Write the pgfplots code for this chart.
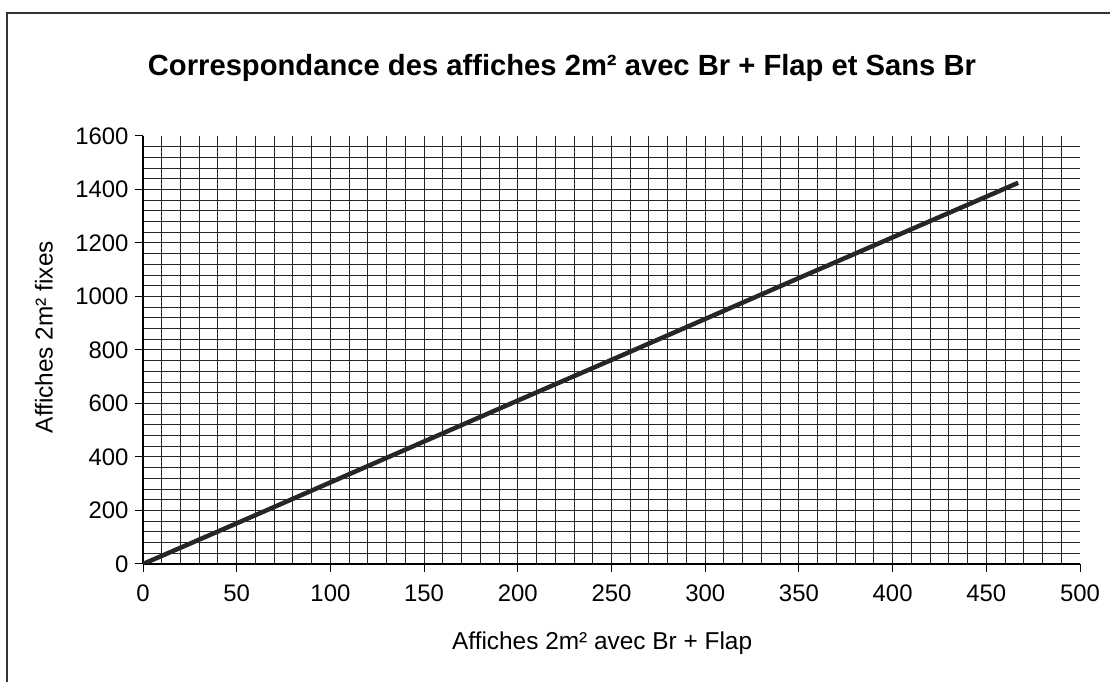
\documentclass[border=0pt]{standalone}
\usepackage{pgfplots}
\pgfplotsset{compat=1.18}
\usepackage{fontspec}
\setmainfont{Liberation Sans}
\begin{document}
\begin{tikzpicture}[x=1bp,y=1bp]
\useasboundingbox (0,0) rectangle (1110,682);
\draw[line width=1.2bp, black!80] (7,0) -- (7,669) -- (1110,669);
\node[font=\fontsize{29.3}{33}\selectfont\bfseries] at (562,614) {Correspondance des affiches 2m² avec Br + Flap et Sans Br};
\begin{axis}[
  at={(143bp,118bp)}, anchor=south west, scale only axis,
  width=937bp, height=428bp,
  xmin=0, xmax=500, ymin=0, ymax=1600,
  xtick={0,50,...,500}, ytick={0,200,...,1600},
  minor xtick={10,20,...,490}, minor ytick={40,80,...,1560},
  grid=minor, minor grid style={black!85, line width=1bp},
  axis x line*=bottom, axis y line*=left,
  axis line style={black, line width=1.2bp},
  tick align=outside, major tick length=8bp, minor tick length=0pt,
  major tick style={black, line width=1bp},
  ticklabel style={font=\fontsize{24}{27}\selectfont},
  /pgf/number format/assume math mode=true,
  /pgf/number format/1000 sep={},
  xticklabel style={yshift=-9bp},
  yticklabel style={xshift=-3bp},
  xlabel={Affiches 2m² avec Br + Flap},
  ylabel={Affiches 2m² fixes},
  label style={font=\fontsize{24.5}{28}\selectfont},
  xlabel style={at={(axis description cs:0.49,0)}, anchor=center, yshift=-79bp},
  ylabel style={at={(axis description cs:0,0.53)}, anchor=center, yshift=99bp},
]
\addplot[black!85, line width=4.5bp] coordinates {
(0,0) (50,152) (100,305) (150,458) (200,611) (250,763) (300,916) (350,1069) (400,1221) (467,1425)
};
\end{axis}
\end{tikzpicture}
\end{document}
